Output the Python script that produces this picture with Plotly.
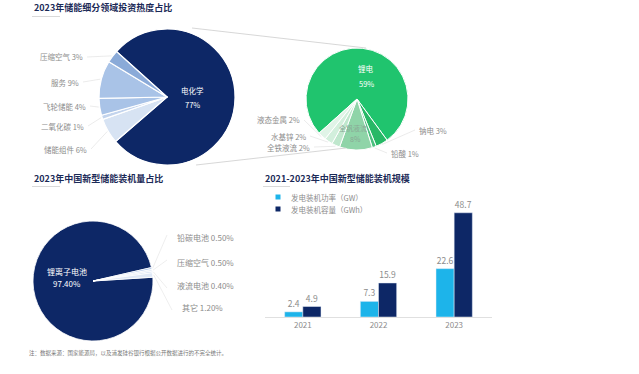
import math
import plotly.graph_objects as go

W, H = 639, 374

# ---------------- data ----------------
invest_labels = ["电化学", "储能组件", "二氧化碳", "飞轮储能", "服务", "压缩空气"]
invest_values = [77, 6, 1, 4, 9, 3]

chem_labels = ["锂电", "钠电", "铅酸", "全钒液流", "全铁液流", "水基锌", "液态金属"]
chem_values = [59, 3, 1, 8, 2, 2, 2]

install_labels = ["锂离子电池", "铅碳电池", "压缩空气", "液流电池", "其它"]
install_values = [97.4, 0.5, 0.5, 0.4, 1.2]

years = ["2021", "2022", "2023"]
power_gw = [2.4, 7.3, 22.6]
capacity_gwh = [4.9, 15.9, 48.7]

series_names = ["发电装机功率（GW）", "发电装机容量（GWh）"]

titles = ["2023年储能细分领域投资热度占比", "2023年中国新型储能装机量占比", "2021-2023年中国新型储能装机规模"]
note = "注：数据来源：国家能源局，以及浦发硅谷银行根据公开数据进行的不完全统计。"

# ---------------- styling ----------------
FONT = "Noto Sans CJK SC"
NAVY = "#0d2766"
CYAN = "#1db4ea"
GRAY = "#8c8c8c"
TITLE = "#1b2a57"

invest_colors = [NAVY, "#d7e3f3", "#c3d4ed", "#a9c3e7", "#a9c3e7", "#8aaad8"]
chem_colors = ["#20c46e", "#27b866", "#4cc07f", "#8fd4a8", "#bfe7cd", "#d2efdc", "#e0f4e7"]
install_colors = [NAVY, "#a8c1e6", "#e3ebf6", "#c0d3ee", "#dfe8f5"]


def px(x):
    return x / W


def py(y):
    return 1 - y / H


def pie_domain(cx, cy, r):
    return dict(x=[px(cx - r), px(cx + r)], y=[py(cy + r), py(cy - r)])


def mid_point(values, idx, rotation, cx, cy, r):
    total = sum(values)
    start = rotation + 360 * sum(values[:idx]) / total
    mid = math.radians(start + 180 * values[idx] / total)
    return cx + r * math.sin(mid), cy - r * math.cos(mid)


fig = go.Figure()

# pie 1
P1 = (167, 97, 68)
ROT1 = 312
fig.add_trace(go.Pie(labels=invest_labels, values=invest_values, sort=False, direction="clockwise",
                     rotation=ROT1, marker=dict(colors=invest_colors, line=dict(color="white", width=1.2)),
                     textinfo="none", hoverinfo="label+percent", domain=pie_domain(*P1), showlegend=False))

# pie 2
P2 = (357, 99, 51)
ROT2 = 228
fig.add_trace(go.Pie(labels=chem_labels, values=chem_values, sort=False, direction="clockwise",
                     rotation=ROT2, marker=dict(colors=chem_colors, line=dict(color="white", width=1)),
                     textinfo="none", hoverinfo="label+value", domain=pie_domain(*P2), showlegend=False))

# pie 3
P3 = (93, 281, 60)
ROT3 = 86.4
fig.add_trace(go.Pie(labels=install_labels, values=install_values, sort=False, direction="clockwise",
                     rotation=ROT3, marker=dict(colors=install_colors, line=dict(color="white", width=0.8)),
                     textinfo="none", hoverinfo="label+value", domain=pie_domain(*P3), showlegend=False))

# bars
fig.add_trace(go.Bar(x=years, y=power_gw, name=series_names[0], marker_color=CYAN,
                     text=[f"{v}" for v in power_gw], textposition="outside", cliponaxis=False,
                     constraintext="none", textfont=dict(size=8.5, color=GRAY, family=FONT),
                     showlegend=False))
fig.add_trace(go.Bar(x=years, y=capacity_gwh, name=series_names[1], marker_color=NAVY,
                     text=[f"{v}" for v in capacity_gwh], textposition="outside", cliponaxis=False,
                     constraintext="none", textfont=dict(size=8.5, color=GRAY, family=FONT),
                     showlegend=False))

shapes = []
ann = []


def text(x, y, s, size=7.5, color=GRAY, xanchor="center", bold=False):
    ann.append(dict(x=px(x), y=py(y), xref="paper", yref="paper", text=f"<b>{s}</b>" if bold else s,
                    showarrow=False, xanchor=xanchor, yanchor="middle",
                    font=dict(size=size, color=color, family=FONT)))


def line(x0, y0, x1, y1, color="#d6d6d6", width=0.8):
    shapes.append(dict(type="line", xref="paper", yref="paper", x0=px(x0), y0=py(y0), x1=px(x1), y1=py(y1),
                       line=dict(color=color, width=width)))


# titles + underline accents
text(32, 8, titles[0], size=9, color=TITLE, xanchor="left", bold=True)
line(32, 16.5, 60, 16.5, color="#d9d9d9", width=1)
text(32, 178, titles[1], size=9, color=TITLE, xanchor="left", bold=True)
line(32, 186.5, 60, 186.5, color="#d9d9d9", width=1)
text(263, 178, titles[2], size=9, color=TITLE, xanchor="left", bold=True)
line(263, 186.5, 290, 186.5, color="#d9d9d9", width=1)

# connector lines between pie 1 and pie 2
line(192, 28, 366, 48, color="#d3d3d3", width=0.9)
line(196, 165, 346, 148, color="#d3d3d3", width=0.9)

# pie 1 labels
text(193, 91, invest_labels[0], size=7.5, color="white")
text(193, 104, f"{invest_values[0]}%", size=7.5, color="white")
p1_pos = {1: (89, 149), 2: (86, 126), 3: (88, 106), 4: (81, 82), 5: (85, 57)}
for i, (lx, ly) in p1_pos.items():
    text(lx, ly, f"{invest_labels[i]} {invest_values[i]}%", xanchor="right")
    ex, ey = mid_point(invest_values, i, ROT1, P1[0], P1[1], P1[2] + 1)
    line(lx + 2, ly, ex, ey, color="#e2e2e2", width=0.7)

# pie 2 labels
text(366, 69, chem_labels[0], size=7.5, color="white")
text(366, 83, f"{chem_values[0]}%", size=7.5, color="white")
text(353, 128, chem_labels[3], size=7, color="#8aa895")
text(355, 139, f"{chem_values[3]}%", size=7, color="#8aa895")
p2_pos = {1: (417, 130, "left"), 2: (389, 153, "left"), 4: (312, 147, "right"), 5: (308, 136, "right"),
          6: (302, 120, "right")}
for i, (lx, ly, anc) in p2_pos.items():
    text(lx, ly, f"{chem_labels[i]} {chem_values[i]}%", xanchor=anc)
    ex, ey = mid_point(chem_values, i, ROT2, P2[0], P2[1], P2[2] + 1)
    sx = lx - 2 if anc == "left" else lx + 2
    line(sx, ly, ex, ey, color="#e2e2e2", width=0.7)

# pie 3 labels
text(67, 271, install_labels[0], size=8, color="white")
text(67, 283, f"{install_values[0]:.2f}%", size=8, color="white")
p3_pos = {1: (175, 237), 2: (175, 262), 3: (175, 285), 4: (180, 307)}
for i, (lx, ly) in p3_pos.items():
    text(lx, ly, f"{install_labels[i]} {install_values[i]:.2f}%", size=8, xanchor="left")
    ex, ey = mid_point(install_values, i, ROT3, P3[0], P3[1], P3[2] + 1)
    line(ex, ey, lx - 8, ly + (3 if ly > 280 else -2), color="#e6e6e6", width=0.7)

# bar legend (manual)
for k, (yy, col) in enumerate([(197, CYAN), (209, NAVY)]):
    shapes.append(dict(type="rect", xref="paper", yref="paper", x0=px(275.5), x1=px(280.5), y0=py(yy + 2.5),
                       y1=py(yy - 2.5), fillcolor=col, line=dict(width=0)))
    text(289, yy, series_names[k], size=7.5, xanchor="left")

# note
text(27, 353, note, size=5.5, color="#777777", xanchor="left")

fig.update_layout(
    width=W, height=H, autosize=False,
    margin=dict(l=0, r=0, t=0, b=0),
    paper_bgcolor="white", plot_bgcolor="white",
    barmode="group", bargap=0.52, bargroupgap=0,
    font=dict(family=FONT, color=GRAY),
    shapes=shapes, annotations=ann,
    xaxis=dict(domain=[px(265), px(492)], showgrid=False, zeroline=False, showline=True,
               linecolor="#e0e0e0", linewidth=1, ticks="", tickfont=dict(size=8, color=GRAY, family=FONT),
               fixedrange=True),
    yaxis=dict(domain=[py(317), py(199.3)], range=[0, 55], visible=False, fixedrange=True),
)

fig.write_html("out.html", config={"displayModeBar": False},
               post_script="document.body.style.margin='0';document.body.style.overflow='hidden';")
